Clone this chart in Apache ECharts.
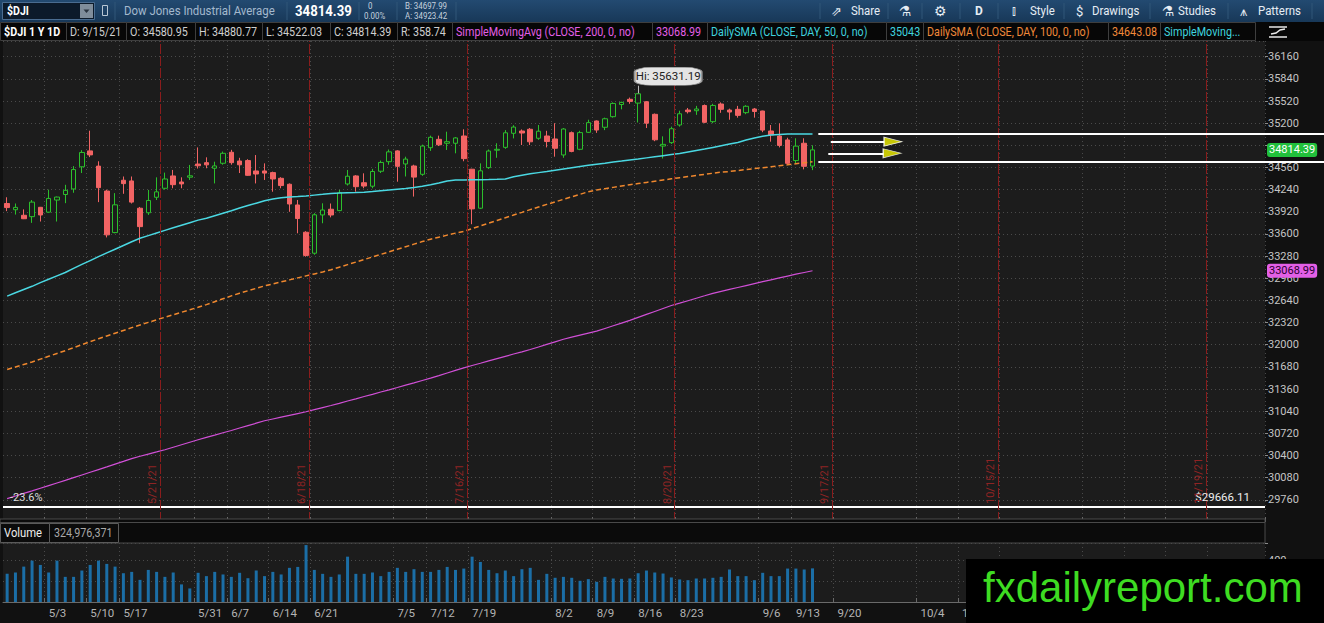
<!DOCTYPE html>
<html>
<head>
<meta charset="utf-8">
<title>$DJI 1 Y 1D</title>
<script src="https://cdn.jsdelivr.net/npm/echarts@6/dist/echarts.min.js"></script>
<style>
  html, body { margin: 0; padding: 0; background: #111; }
  #chart { width: 1324px; height: 623px; }
</style>
</head>
<body>
<div id="chart"></div>
<script>
// sessions as they appear on the chart (feed has no bar for 5/14 and 5/28)
var tradeDates = [
	'4/26', '4/27', '4/28', '4/29', '4/30',
	'5/3', '5/4', '5/5', '5/6', '5/7',
	'5/10', '5/11', '5/12', '5/13',
	'5/17', '5/18', '5/19', '5/20', '5/21',
	'5/24', '5/25', '5/26', '5/27',
	'6/1', '6/2', '6/3', '6/4',
	'6/7', '6/8', '6/9', '6/10', '6/11',
	'6/14', '6/15', '6/16', '6/17', '6/18',
	'6/21', '6/22', '6/23', '6/24', '6/25',
	'6/28', '6/29', '6/30', '7/1', '7/2',
	'7/6', '7/7', '7/8', '7/9',
	'7/12', '7/13', '7/14', '7/15', '7/16',
	'7/19', '7/20', '7/21', '7/22', '7/23',
	'7/26', '7/27', '7/28', '7/29', '7/30',
	'8/2', '8/3', '8/4', '8/5', '8/6',
	'8/9', '8/10', '8/11', '8/12', '8/13',
	'8/16', '8/17', '8/18', '8/19', '8/20',
	'8/23', '8/24', '8/25', '8/26', '8/27',
	'8/30', '8/31', '9/1', '9/2', '9/3',
	'9/7', '9/8', '9/9', '9/10',
	'9/13', '9/14', '9/15'
];
// empty space to the right of the last bar
var futureDates = [
	'9/16', '9/17', '9/20', '9/21', '9/22', '9/23', '9/24', '9/27', '9/28', '9/29', '9/30', '10/1',
	'10/4', '10/5', '10/6', '10/7', '10/8', '10/11', '10/12', '10/13', '10/14', '10/15',
	'10/18', '10/19', '10/20', '10/21', '10/22', '10/25', '10/26', '10/27', '10/28', '10/29',
	'11/1', '11/2', '11/3', '11/4', '11/5', '11/8', '11/9', '11/10', '11/11', '11/12',
	'11/15', '11/16', '11/17', '11/18', '11/19', '11/22', '11/23', '11/24', '11/26',
	'11/29', '11/30', '12/1'
];
// week grid lines; the labels past 10/11 sit under the watermark
var gridWeeks = ['5/3', '5/10', '5/17', '5/31', '6/7', '6/14', '6/21', '7/5', '7/12', '7/19',
	'8/2', '8/9', '8/16', '8/23', '9/6', '9/13', '9/20', '10/4', '10/11', '10/18',
	'11/1', '11/8', '11/15', '11/22'];
var weekLabels = ['5/3', '5/10', '5/17', '5/31', '6/7', '6/14', '6/21', '7/5', '7/12', '7/19',
	'8/2', '8/9', '8/16', '8/23', '9/6', '9/13', '9/20', '10/4', '10/11'];
var expirations = ['5/21', '6/18', '7/16', '8/20', '9/17', '10/15', '11/19'];

var opens = [34040, 33950, 33870, 33850, 33985, 33915, 34090, 34170, 34250, 34570,
	34800, 34580, 34220, 33620, 34376, 34366, 33972, 33906, 34130, 34260,
	34438, 34351, 34420, 34610, 34630, 34549, 34621, 34780, 34654, 34660,
	34510, 34510, 34486, 34404, 34318, 34019, 33625, 33322, 33875, 33957,
	33937, 34322, 34438, 34340, 34290, 34506, 34644, 34800, 34611, 34582,
	34462, 34846, 34967, 34910, 34910, 35015, 34535, 33972, 34558, 34810,
	34851, 35054, 35087, 35112, 34982, 35015, 34972, 34741, 35063, 34823,
	35068, 35232, 35141, 35294, 35470, 35545, 35490, 35510, 35328, 34870,
	34919, 35174, 35390, 35380, 35455, 35222, 35477, 35390, 35400, 35352,
	35405, 35376, 35087, 35015, 34958, 34660, 34910, 34580.95];
var closes = [33981, 33984, 33820, 34060, 33874, 34113, 34133, 34230, 34530, 34777,
	34742, 34269, 33587, 34021, 34327, 34060, 33706, 34084, 34208, 34394,
	34312, 34323, 34440, 34585, 34598, 34583, 34765, 34630, 34599, 34447,
	34466, 34479, 34394, 34299, 34033, 33823, 33290, 33877, 33946, 33874,
	34197, 34434, 34283, 34292, 34502, 34633, 34786, 34577, 34681, 34421,
	34870, 34996, 34888, 34933, 34987, 34688, 33962, 34512, 34798, 34823,
	35061, 35144, 35058, 34931, 35084, 34935, 34838, 35116, 34792, 35064,
	35208, 35101, 35264, 35485, 35500, 35515, 35625, 35200, 34960, 34894,
	35120, 35336, 35366, 35405, 35213, 35456, 35400, 35361, 35313, 35444,
	35369, 35100, 35031, 34879, 34620, 34869, 34577, 34814.39];
var lows = [33930, 33880, 33815, 33760, 33780, 33905, 33780, 34045, 34195, 34480,
	34710, 34060, 33550, 33610, 34180, 34040, 33466, 33875, 34090, 34240,
	34260, 34260, 34380, 34545, 34549, 34330, 34600, 34600, 34480, 34440,
	34330, 34380, 34210, 34260, 33920, 33610, 33271, 33300, 33755, 33840,
	33930, 34300, 34210, 34260, 34260, 34480, 34600, 34355, 34430, 34140,
	34440, 34800, 34870, 34813, 34765, 34650, 33741, 33960, 34540, 34700,
	34830, 34980, 34885, 34885, 34960, 34850, 34716, 34700, 34780, 34810,
	35060, 35060, 35100, 35280, 35400, 35480, 35210, 35130, 34940, 34690,
	34900, 35150, 35340, 35320, 35200, 35200, 35350, 35250, 35280, 35330,
	35280, 35070, 34933, 34850, 34600, 34620, 34533, 34522.03];
var highs = [34130, 34040, 33955, 34090, 33990, 34240, 34140, 34310, 34580, 34810,
	35091, 34650, 34240, 34190, 34430, 34430, 33990, 34236, 34418, 34486,
	34525, 34418, 34597, 34850, 34707, 34644, 34790, 34815, 34700, 34680,
	34740, 34620, 34500, 34420, 34330, 34091, 33640, 33900, 34043, 34040,
	34236, 34525, 34450, 34476, 34540, 34660, 34820, 34810, 34716, 34600,
	34890, 35020, 35020, 35077, 35000, 35112, 34540, 34620, 34820, 34910,
	35100, 35171, 35110, 35130, 35174, 35090, 35200, 35130, 35080, 35090,
	35250, 35240, 35280, 35500, 35510, 35570, 35631.19, 35520, 35340, 35010,
	35150, 35380, 35420, 35450, 35470, 35480, 35500, 35410, 35450, 35460,
	35420, 35380, 35174, 35198, 34990, 34982, 34982, 34880.77];
// volume, millions of shares
var volumes = [272, 285, 342, 400, 358, 285, 400, 243, 243, 304,
	358, 400, 368, 342, 278, 291, 214, 310, 291, 243,
	285, 170, 131, 282, 250, 291, 266, 243, 282, 230,
	304, 250, 291, 266, 330, 339, 550, 310, 272, 243,
	266, 438, 272, 272, 285, 250, 291, 330, 291, 317,
	291, 291, 310, 339, 310, 323, 438, 387, 310, 278,
	304, 250, 317, 330, 214, 272, 234, 243, 234, 205,
	221, 195, 243, 227, 224, 227, 278, 304, 285, 275,
	237, 218, 211, 227, 227, 234, 243, 314, 250, 250,
	211, 282, 250, 250, 323, 323, 314, 324.976371];
var sma50 = [32702, 32750, 32797, 32844, 32897, 32946, 32995, 33043, 33104, 33160,
	33216, 33272, 33326, 33380, 33434, 33488, 33538, 33576, 33614, 33652,
	33689, 33726, 33763, 33800, 33828, 33864, 33900, 33936, 33975, 34010,
	34045, 34080, 34105, 34122, 34134, 34140, 34149, 34161, 34173, 34186,
	34190, 34195, 34199, 34204, 34212, 34223, 34234, 34245, 34256, 34272,
	34289, 34310, 34335, 34365, 34378, 34380, 34382, 34384, 34386, 34390,
	34395, 34425, 34448, 34470, 34486, 34502, 34521, 34539, 34557, 34575,
	34592, 34607, 34622, 34638, 34653, 34670, 34683, 34699, 34715, 34731,
	34747, 34763, 34784, 34805, 34826, 34850, 34874, 34898, 34922, 34957,
	34987, 35012, 35030, 35037, 35043, 35044, 35043, 35043];
var sma100 = [31643, 31679, 31715, 31751, 31792, 31833, 31874, 31915, 31958, 32001,
	32044, 32087, 32127, 32167, 32207, 32247, 32285, 32323, 32361, 32397,
	32433, 32469, 32505, 32541, 32580, 32622, 32664, 32706, 32745, 32780,
	32815, 32850, 32879, 32908, 32937, 32966, 32995, 33023, 33051, 33083,
	33120, 33157, 33194, 33231, 33268, 33305, 33342, 33379, 33416, 33453,
	33490, 33525, 33554, 33583, 33612, 33638, 33678, 33717, 33756, 33795,
	33834, 33873, 33912, 33952, 33990, 34027, 34063, 34100, 34137, 34173,
	34210, 34235, 34254, 34273, 34292, 34311, 34328, 34345, 34362, 34379,
	34396, 34413, 34429, 34445, 34461, 34477, 34493, 34502, 34516, 34530,
	34544, 34557, 34571, 34585, 34599, 34614, 34628, 34643.08];
var sma200 = [29778, 29815, 29853, 29890, 29928, 29966, 30004, 30041, 30080, 30119,
	30158, 30197, 30236, 30276, 30315, 30355, 30390, 30421, 30452, 30484,
	30520, 30556, 30592, 30628, 30662, 30695, 30729, 30762, 30797, 30832,
	30867, 30902, 30928, 30954, 30980, 31006, 31032, 31062, 31092, 31122,
	31154, 31187, 31219, 31252, 31284, 31317, 31349, 31382, 31416, 31449,
	31483, 31517, 31554, 31592, 31629, 31666, 31700, 31733, 31767, 31800,
	31833, 31866, 31898, 31931, 31968, 32005, 32042, 32079, 32109, 32138,
	32167, 32196, 32235, 32274, 32313, 32352, 32395, 32438, 32481, 32524,
	32567, 32601, 32636, 32672, 32707, 32743, 32771, 32799, 32827, 32855,
	32883, 32911, 32938, 32965, 32992, 33019, 33044, 33068.99];
var fibLevel = 29666.11;
// the two hand-drawn arrows (bar position, price)
var arrowY = [34933, 34765];
var arrowStart = [99.2, 98.9];
var arrowEnd = [106.7, 106.6];

(function () {
	var FONT = "Roboto, 'Liberation Sans', sans-serif";
	var categories = tradeDates.concat(futureDates);
	var candles = opens.map(function (o, i) { return [o, closes[i], lows[i], highs[i]]; });
	var last = tradeDates.length - 1;
	var hiIndex = highs.indexOf(Math.max.apply(null, highs));

	// week label -> first session on or after it
	function dayNum(s) { var p = s.split('/'); return +p[0] * 100 + +p[1]; }
	function sessionIndex(d) {
		for (var i = 0; i < categories.length; i++) {
			if (dayNum(categories[i]) >= dayNum(d)) return i;
		}
		return -1;
	}
	var gridAt = {}, labelAt = {};
	gridWeeks.forEach(function (w) { gridAt[sessionIndex(w)] = true; });
	weekLabels.forEach(function (w) { labelAt[sessionIndex(w)] = w; });
	function isWeek(index) { return gridAt[index] === true; }
	function hasLabel(index) { return labelAt[index] !== undefined; }

	var plotL = 3, plotR = 1265, fullW = 1324;
	var catW = (plotR - plotL) / categories.length;
	var annoMax = (fullW - plotL) / catW - 0.5;
	var yMin = 29440, yMax = 36387;

	var dotted = { color: '#4a4a4a', type: [1, 3], width: 1 };
	var clear = { color: 'rgba(0,0,0,0)', width: 0 };

	// vertical option expiration lines + drawn annotations
	var annoLines = expirations.map(function (d) {
		return {
			xAxis: categories.indexOf(d) + 0.4,
			lineStyle: { color: '#8a1c1c', type: [10, 2], width: 1 },
			label: {
				show: true, position: 'insideStartTop', formatter: d + '/21',
				color: '#8e2424', fontSize: 11, fontFamily: FONT, distance: [18, 2]
			}
		};
	});
	[sma50[last], sma100[last]].forEach(function (v) {
		annoLines.push([
			{ coord: [last + 0.7, v], lineStyle: { color: '#ffffff', width: 2, type: 'solid' }, label: { show: false } },
			{ coord: [annoMax, v] }
		]);
	});
	arrowY.forEach(function (v, i) {
		annoLines.push([
			{ coord: [arrowStart[i], v], lineStyle: { color: '#ffffff', width: 2, type: 'solid' }, label: { show: false } },
			{ coord: [arrowEnd[i] - 1, v] }
		]);
	});

	// header graphics
	var g = [];
	function txt(x, y, text, fill, font, extra) {
		var o = { type: 'text', x: x, y: y, style: { text: text, fill: fill, font: font, verticalAlign: 'middle' } };
		if (extra) { for (var k in extra) o[k] = extra[k]; }
		g.push(o);
	}
	function box(x, y, w, h, fill, stroke) {
		g.push({ type: 'rect', shape: { x: x, y: y, width: w, height: h }, style: { fill: fill, stroke: stroke || null, lineWidth: 1 } });
	}
	function vline(x, y1, y2, c) {
		g.push({ type: 'line', shape: { x1: x, y1: y1, x2: x, y2: y2 }, style: { stroke: c, lineWidth: 1 } });
	}
	var narrow = { scaleX: 0.88 };
	// top toolbar
	g.push({
		type: 'rect', shape: { x: 0, y: 0, width: fullW, height: 22 },
		style: { fill: new echarts.graphic.LinearGradient(0, 0, 0, 1, [{ offset: 0, color: '#234a71' }, { offset: 1, color: '#183858' }]) }
	});
	box(2.5, 2.5, 92, 17, '#0c1a2a', '#4a6c90');
	txt(7, 11, '$DJI', '#ffffff', 'bold 12px ' + FONT, narrow);
	box(80, 4, 13, 14, '#7f8d9b');
	g.push({ type: 'polygon', shape: { points: [[83.5, 9.5], [89.5, 9.5], [86.5, 13]] }, style: { fill: '#2a3440' } });
	box(102.5, 5.5, 5, 10, null, '#b8c6d4');
	[115, 287, 359, 397, 456].forEach(function (x) { vline(x, 2, 20, '#315779'); });
	txt(124, 11, 'Dow Jones Industrial Average', '#a4b9ce', '13px ' + FONT, narrow);
	txt(295, 11, '34814.39', '#ffffff', 'bold 15px ' + FONT, narrow);
	txt(368, 6, '0', '#c6d2de', '9px ' + FONT, narrow);
	txt(364, 16, '0.00%', '#c6d2de', '9px ' + FONT, narrow);
	txt(405, 6, 'B: 34697.99', '#c6d2de', '9px ' + FONT, narrow);
	txt(405, 16, 'A: 34923.42', '#c6d2de', '9px ' + FONT, narrow);
	[820, 888, 922, 960, 998, 1064, 1150, 1228, 1312].forEach(function (x) { vline(x, 3, 19, '#315779'); });
	txt(831, 11, '\u21D7', '#e6edf4', '13px DejaVu Sans');
	txt(851, 11, 'Share', '#e6edf4', '13px ' + FONT, narrow);
	txt(899, 11, '\u2697', '#e6edf4', '14px DejaVu Sans');
	txt(934, 11, '\u2699', '#e6edf4', '14px DejaVu Sans');
	txt(975, 11, 'D', '#e6edf4', 'bold 12px ' + FONT);
	txt(1012, 11, '\u2AFE', '#e6edf4', '12px DejaVu Sans');
	txt(1030, 11, 'Style', '#e6edf4', '13px ' + FONT, narrow);
	txt(1076, 11, '$', '#e6edf4', '13px ' + FONT);
	txt(1092, 11, 'Drawings', '#e6edf4', '13px ' + FONT, narrow);
	txt(1162, 11, '\u2697', '#e6edf4', '14px DejaVu Sans');
	txt(1178, 11, 'Studies', '#e6edf4', '13px ' + FONT, narrow);
	txt(1240, 11, '\u2A5A', '#e6edf4', '13px DejaVu Sans');
	txt(1258, 11, 'Patterns', '#e6edf4', '13px ' + FONT, narrow);

	// study / quote row
	box(0, 22, fullW, 19, '#070707');
	var cells = [
		[0, 66, '$DJI 1 Y 1D', '#ffffff', 'bold '],
		[66, 126, 'D: 9/15/21', '#cfcfcf', ''],
		[126, 195, 'O: 34580.95', '#cfcfcf', ''],
		[195, 262, 'H: 34880.77', '#cfcfcf', ''],
		[262, 330, 'L: 34522.03', '#cfcfcf', ''],
		[330, 397, 'C: 34814.39', '#cfcfcf', ''],
		[397, 452, 'R: 358.74', '#cfcfcf', ''],
		[452, 652, 'SimpleMovingAvg (CLOSE, 200, 0, no)', '#e35fe6', ''],
		[652, 707, '33068.99', '#e35fe6', ''],
		[707, 886, 'DailySMA (CLOSE, DAY, 50, 0, no)', '#3fd3df', ''],
		[886, 923, '35043', '#3fd3df', ''],
		[923, 1108, 'DailySMA (CLOSE, DAY, 100, 0, no)', '#f0893a', ''],
		[1108, 1160, '34643.08', '#f0893a', ''],
		[1160, 1255, 'SimpleMoving...', '#3fd3df', '']
	];
	cells.forEach(function (c) {
		box(c[0] + 0.5, 22.5, c[1] - c[0], 18, '#070707', '#3e3e3e');
		txt(c[0] + 4, 31.5, c[2], c[3], c[4] + '12.5px ' + FONT, { scaleX: 0.86 });
	});
	g.push({ type: 'polyline', shape: { points: [[1269, 27], [1287, 27]] }, style: { stroke: '#e8e8e8', lineWidth: 1.5 } });
	g.push({ type: 'polyline', shape: { points: [[1269, 37], [1287, 37]] }, style: { stroke: '#e8e8e8', lineWidth: 1.5 } });
	g.push({ type: 'polyline', shape: { points: [[1271, 34], [1276, 33], [1280, 30], [1285, 29]] }, style: { stroke: '#e8e8e8', lineWidth: 1.5 } });

	// volume header strip
	g.push({ type: 'rect', z: 50, shape: { x: 0, y: 519, width: plotR, height: 24 }, style: { fill: '#0b0b0b', stroke: '#4a4a4a', lineWidth: 1 } });
	g.push({ type: 'line', z: 51, shape: { x1: 0, y1: 522.5, x2: plotR, y2: 522.5 }, style: { stroke: '#4a4a4a', lineWidth: 1 } });
	g.push({ type: 'rect', z: 51, shape: { x: 0.5, y: 523.5, width: 49, height: 19 }, style: { fill: '#0b0b0b', stroke: '#5a5a5a' } });
	g.push({ type: 'rect', z: 51, shape: { x: 49.5, y: 523.5, width: 69, height: 19 }, style: { fill: '#0b0b0b', stroke: '#5a5a5a' } });
	g.push({ type: 'text', z: 52, x: 4, y: 533, scaleX: 0.9, style: { text: 'Volume', fill: '#eeeeee', font: '12.5px ' + FONT, verticalAlign: 'middle' } });
	g.push({ type: 'text', z: 52, x: 54, y: 533, scaleX: 0.86, style: { text: '324,976,371', fill: '#a8a8a8', font: '12.5px ' + FONT, verticalAlign: 'middle' } });

	// watermark
	g.push({ type: 'rect', z: 100, shape: { x: 966, y: 559, width: 358, height: 64 }, style: { fill: '#000000' } });
	g.push({ type: 'text', z: 101, x: 983, y: 587, style: { text: 'fxdailyreport.com', fill: '#3edc22', font: '42px Liberation Sans, Arial, sans-serif', verticalAlign: 'middle' } });

	var myChart = echarts.init(document.getElementById('chart'), null, { renderer: 'svg' });
	var option = {
		backgroundColor: '#111111',
		animation: false,
		textStyle: { fontFamily: FONT },
		grid: [
			{ left: plotL, width: plotR - plotL, top: 41, height: 481, show: true, backgroundColor: '#1c1c1c', borderWidth: 0, outerBoundsMode: 'none' },
			{ left: plotL, width: plotR - plotL, top: 543, height: 59, show: true, backgroundColor: '#1c1c1c', borderWidth: 0, outerBoundsMode: 'none' },
			{ left: plotL, width: fullW - plotL, top: 41, height: 481, outerBoundsMode: 'none' }
		],
		xAxis: [
			{
				type: 'category', gridIndex: 0, data: categories, boundaryGap: true,
				axisLine: { show: false },
				axisTick: { show: true, inside: true, length: 5, interval: isWeek, lineStyle: { color: '#6a6a6a' } },
				axisLabel: { show: false },
				splitLine: { show: true, interval: isWeek, lineStyle: dotted }
			},
			{
				type: 'category', gridIndex: 1, data: categories, boundaryGap: true,
				axisLine: { show: true, lineStyle: { color: '#6a6a6a' } },
				axisTick: { show: true, inside: true, length: 4, interval: isWeek, lineStyle: { color: '#6a6a6a' } },
				axisLabel: {
					interval: hasLabel, color: '#b4b4b4', fontSize: 11.5, fontFamily: FONT, margin: 5, align: 'left',
					formatter: function (value, index) { return labelAt[index] || ''; }
				},
				splitLine: { show: true, interval: isWeek, lineStyle: dotted }
			},
			{ type: 'value', gridIndex: 2, min: -0.5, max: annoMax, show: false }
		],
		yAxis: [
			{
				type: 'value', gridIndex: 0, position: 'right', min: yMin, max: yMax, interval: 320,
				axisLine: { show: false },
				axisTick: { show: true, length: 3, lineStyle: { color: '#8a8a8a' } },
				axisLabel: {
					color: '#c4c4c4', fontSize: 11, fontFamily: FONT, margin: 3,
					showMinLabel: false, showMaxLabel: false,
					// the tick right under the last-price tag is hidden by it
					formatter: function (v) { return Math.abs(v - closes[last]) < 80 ? '' : String(v); }
				},
				splitLine: { show: true, lineStyle: dotted }
			},
			{
				type: 'value', gridIndex: 1, position: 'right', min: 0, max: 570, interval: 200,
				axisLine: { show: false },
				axisTick: { show: true, length: 3, lineStyle: { color: '#8a8a8a' } },
				axisLabel: {
					color: '#c4c4c4', fontSize: 11, fontFamily: FONT, margin: 3,
					formatter: function (v) { return v === 400 ? String(v) : ''; }
				},
				splitLine: { show: true, lineStyle: dotted }
			},
			{ type: 'value', gridIndex: 2, min: yMin, max: yMax, show: false }
		],
		series: [
			{
				name: 'SimpleMovingAvg 200', type: 'line', xAxisIndex: 0, yAxisIndex: 0, data: sma200,
				symbol: 'none', lineStyle: { color: '#d04fd6', width: 1.2 },
				markLine: {
					symbol: 'none', silent: true,
					data: [{
						yAxis: sma200[last], lineStyle: clear,
						label: {
							show: true, position: 'end', distance: 2, formatter: String(sma200[last]),
							backgroundColor: '#e35fe6', color: '#2a0030', padding: [2, 2, 1, 2], borderRadius: 3,
							fontSize: 11, fontFamily: FONT
						}
					}]
				}
			},
			{
				name: 'DailySMA 100', type: 'line', xAxisIndex: 0, yAxisIndex: 0, data: sma100,
				symbol: 'none', lineStyle: { color: '#f0882e', width: 1.5, type: [5, 3] }
			},
			{
				name: 'DailySMA 50', type: 'line', xAxisIndex: 0, yAxisIndex: 0, data: sma50,
				symbol: 'none', lineStyle: { color: '#4ad8e2', width: 1.5 }
			},
			{
				name: '$DJI', type: 'candlestick', xAxisIndex: 0, yAxisIndex: 0, data: candles, barWidth: 5,
				itemStyle: {
					color: '#1c1c1c', color0: '#f26464',
					borderColor: '#2cbf2c', borderColor0: '#f26464', borderWidth: 1
				},
				markLine: {
					symbol: 'none', silent: true,
					data: [
						{
							yAxis: fibLevel, lineStyle: { color: '#ffffff', width: 2, type: 'solid' },
							label: { show: true, position: 'insideStartTop', formatter: '-23.6%', color: '#dddddd', fontSize: 11, fontFamily: FONT, distance: [7, 3] }
						},
						{
							yAxis: fibLevel, lineStyle: { color: '#ffffff', width: 2, type: 'solid' },
							label: { show: true, position: 'insideEndTop', formatter: '$' + fibLevel, color: '#eeeeee', fontSize: 11.5, fontFamily: FONT, distance: [15, 3] }
						},
						{
							yAxis: closes[last], lineStyle: clear,
							label: {
								show: true, position: 'end', distance: 2, formatter: String(closes[last]),
								backgroundColor: '#21c03b', color: '#ffffff', padding: [2, 2, 1, 2], borderRadius: 3,
								fontSize: 11, fontFamily: FONT
							}
						},
						[
							{ coord: [tradeDates[hiIndex], highs[hiIndex]], lineStyle: { color: '#bbbbbb', width: 1, type: 'solid' }, label: { show: false } },
							{ coord: [tradeDates[hiIndex], highs[hiIndex] + 110] }
						]
					]
				},
				markPoint: {
					silent: true,
					data: [{
						coord: [tradeDates[hiIndex], highs[hiIndex]],
						symbol: 'roundRect', symbolSize: [67, 18], symbolOffset: [30, -17],
						itemStyle: { color: '#e4e4e4', borderColor: '#9a9a9a', borderWidth: 1 },
						label: { show: true, position: 'inside', formatter: 'Hi: ' + highs[hiIndex], color: '#222222', fontSize: 11.5, fontFamily: FONT }
					}]
				}
			},
			{
				name: 'Volume', type: 'bar', xAxisIndex: 1, yAxisIndex: 1, data: volumes, barWidth: 3,
				itemStyle: { color: '#1b6ea6' }
			},
			{
				name: 'Drawings', type: 'scatter', xAxisIndex: 2, yAxisIndex: 2,
				data: arrowY.map(function (v, i) { return [arrowEnd[i], v]; }),
				symbol: 'triangle', symbolSize: [9, 18], symbolRotate: -90,
				itemStyle: { color: '#f2f200', borderColor: '#ffffff', borderWidth: 1 },
				z: 5,
				markLine: { symbol: 'none', silent: true, data: annoLines }
			}
		],
		graphic: g
	};
	myChart.setOption(option);
	window.addEventListener('resize', function () {
		myChart.resize();
	});
})();
</script>
</body>
</html>
